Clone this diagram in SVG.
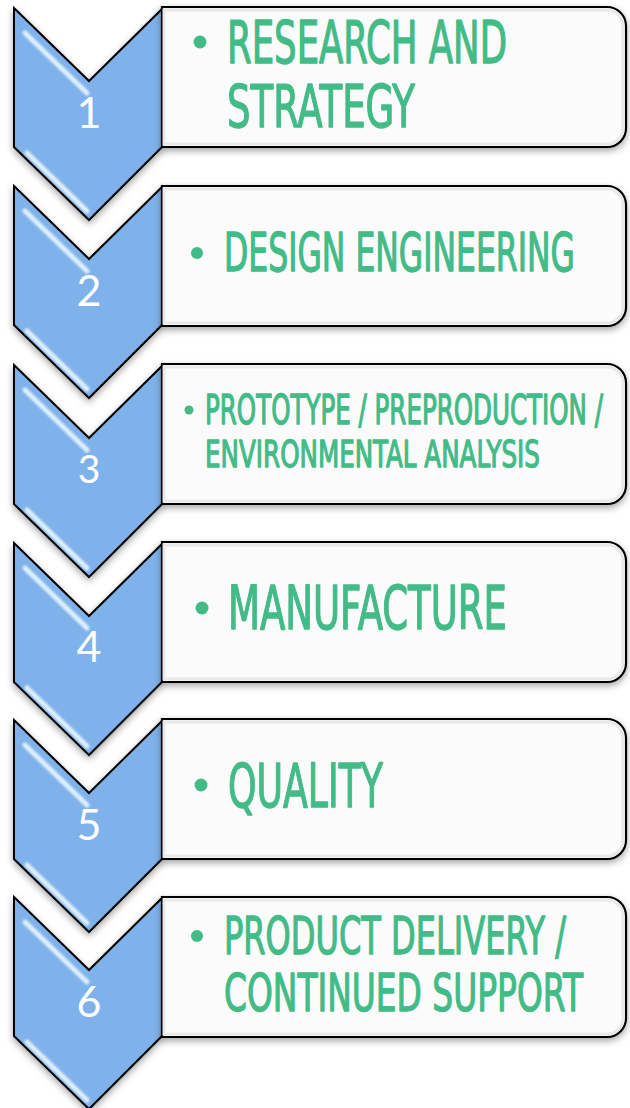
<svg xmlns="http://www.w3.org/2000/svg" width="630" height="1108" viewBox="0 0 630 1108">
  <style>
    .chev { fill: #7fb2ea; stroke: #000; stroke-width: 2; stroke-linejoin: miter; }
    .box { fill: #fbfbfb; stroke: #000; stroke-width: 2.2; }
    .boxin { fill: none; stroke: #e9e9e9; stroke-width: 3; }
    .hl { stroke: #dff0ff; stroke-width: 5; stroke-linecap: round; fill: none; }
    .num { font-family: Lato, "Open Sans", "Liberation Sans", sans-serif; fill: #ffffff; text-anchor: middle; }
    .lbl { font-family: "Liberation Sans Narrow", "DejaVu Sans Condensed", "Liberation Sans", sans-serif; fill: #42bb87; stroke: #42bb87; stroke-width: 1.3; stroke-linejoin: round; }
    .dot { fill: #42bb87; }
  </style>
  <defs>
    <filter id="shadow" x="-20%" y="-20%" width="140%" height="140%">
      <feDropShadow dx="0" dy="3" stdDeviation="3.5" flood-color="#000" flood-opacity="0.35"/>
    </filter>
    <filter id="soft" x="-20%" y="-20%" width="140%" height="140%">
      <feGaussianBlur stdDeviation="0.9"/>
    </filter>
    <!-- chevron outline, origin at the top of the shape -->
    <path id="chevron" d="M14,0 L89,73 L162,1 L162,139 L89,212 L14,139 Z"/>
    <!-- card with square left corners and rounded right corners -->
    <path id="card" d="M162,0 H607 A19,19 0 0 1 626,19 V121 A19,19 0 0 1 607,140 H162 Z"/>
    <path id="cardInner" d="M164,3 H606 A16,16 0 0 1 623,19 V121 A16,16 0 0 1 606,137 H164 Z"/>
    <g id="bevel" filter="url(#soft)">
      <line class="hl" x1="25" y1="25" x2="87" y2="85"/>
      <line class="hl" x1="27" y1="145" x2="87" y2="203"/>
    </g>
  </defs>

  <g id="step1">
    <use href="#chevron" class="chev" y="8" filter="url(#shadow)"/>
    <use href="#bevel" y="8"/>
    <use href="#card" class="box" y="7" filter="url(#shadow)"/>
    <use href="#cardInner" class="boxin" y="7"/>
    <text class="num" x="89" y="128" font-size="43">1</text>
    <circle class="dot" cx="200" cy="42" r="6.5"/>
    <text class="lbl" x="227" y="63" font-size="58" textLength="280" lengthAdjust="spacingAndGlyphs">RESEARCH AND</text>
    <text class="lbl" x="227" y="127" font-size="58" textLength="188" lengthAdjust="spacingAndGlyphs">STRATEGY</text>
  </g>

  <g id="step2">
    <use href="#chevron" class="chev" y="186" filter="url(#shadow)"/>
    <use href="#bevel" y="186"/>
    <use href="#card" class="box" y="186" filter="url(#shadow)"/>
    <use href="#cardInner" class="boxin" y="186"/>
    <text class="num" x="89" y="306" font-size="43">2</text>
    <circle class="dot" cx="197" cy="253" r="6"/>
    <text class="lbl" x="224" y="271" font-size="53" textLength="351" lengthAdjust="spacingAndGlyphs">DESIGN ENGINEERING</text>
  </g>

  <g id="step3">
    <use href="#chevron" class="chev" y="365" filter="url(#shadow)"/>
    <use href="#bevel" y="365"/>
    <use href="#card" class="box" y="364" filter="url(#shadow)"/>
    <use href="#cardInner" class="boxin" y="364"/>
    <text class="num" x="89" y="483" font-size="39">3</text>
    <circle class="dot" cx="189" cy="410" r="4.5"/>
    <text class="lbl" x="205" y="424" font-size="40" textLength="398" lengthAdjust="spacingAndGlyphs" stroke-width="1">PROTOTYPE / PREPRODUCTION /</text>
    <text class="lbl" x="205" y="467" font-size="38" textLength="335" lengthAdjust="spacingAndGlyphs" stroke-width="1">ENVIRONMENTAL ANALYSIS</text>
  </g>

  <g id="step4">
    <use href="#chevron" class="chev" y="543" filter="url(#shadow)"/>
    <use href="#bevel" y="543"/>
    <use href="#card" class="box" y="542" filter="url(#shadow)"/>
    <use href="#cardInner" class="boxin" y="542"/>
    <text class="num" x="89" y="662" font-size="43">4</text>
    <circle class="dot" cx="202" cy="608" r="6.5"/>
    <text class="lbl" x="228" y="629" font-size="60" textLength="279" lengthAdjust="spacingAndGlyphs">MANUFACTURE</text>
  </g>

  <g id="step5">
    <use href="#chevron" class="chev" y="720" filter="url(#shadow)"/>
    <use href="#bevel" y="720"/>
    <use href="#card" class="box" y="719" filter="url(#shadow)"/>
    <use href="#cardInner" class="boxin" y="719"/>
    <text class="num" x="89" y="840" font-size="43">5</text>
    <circle class="dot" cx="201" cy="785" r="6.5"/>
    <text class="lbl" x="228" y="807" font-size="60" textLength="155" lengthAdjust="spacingAndGlyphs">QUALITY</text>
  </g>

  <g id="step6">
    <use href="#chevron" class="chev" y="897" filter="url(#shadow)"/>
    <use href="#bevel" y="897"/>
    <use href="#card" class="box" y="897" filter="url(#shadow)"/>
    <use href="#cardInner" class="boxin" y="897"/>
    <text class="num" x="89" y="1017" font-size="43">6</text>
    <circle class="dot" cx="197" cy="936" r="6"/>
    <text class="lbl" x="224" y="954" font-size="52" textLength="342" lengthAdjust="spacingAndGlyphs">PRODUCT DELIVERY /</text>
    <text class="lbl" x="224" y="1011" font-size="52" textLength="359" lengthAdjust="spacingAndGlyphs">CONTINUED SUPPORT</text>
  </g>
</svg>
